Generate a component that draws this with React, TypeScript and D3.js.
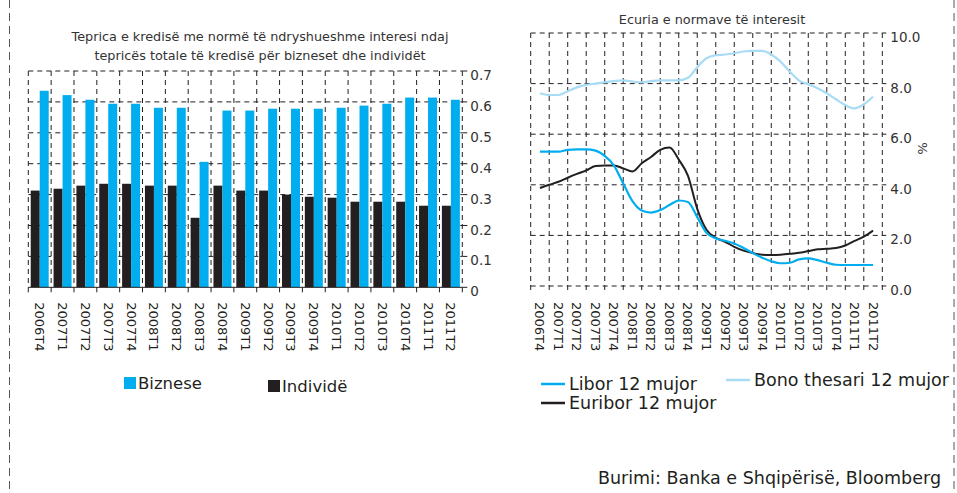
import React, { useRef, useEffect } from 'react';
import * as d3 from 'd3';

const quarters = [
  "2006T4", "2007T1", "2007T2", "2007T3", "2007T4", "2008T1", "2008T2", "2008T3",
  "2008T4", "2009T1", "2009T2", "2009T3", "2009T4", "2010T1", "2010T2", "2010T3",
  "2010T4", "2011T1", "2011T2"
];

// share of variable-rate credit
const biznese = [0.636, 0.622, 0.607, 0.594, 0.594, 0.581, 0.581, 0.406, 0.572, 0.572,
  0.578, 0.578, 0.578, 0.581, 0.588, 0.594, 0.614, 0.614, 0.607];
const individe = [0.313, 0.319, 0.329, 0.335, 0.335, 0.329, 0.329, 0.225, 0.329, 0.313,
  0.313, 0.300, 0.293, 0.290, 0.277, 0.277, 0.277, 0.264, 0.264];
const barTicks = [0, 0.1, 0.2, 0.3, 0.4, 0.5, 0.6, 0.7];

// rates, one value every half quarter
const libor = [5.31, 5.31, 5.31, 5.38, 5.40, 5.40, 5.35, 5.14, 4.76, 4.05, 3.35, 2.98, 2.90,
  3.00, 3.20, 3.38, 3.32, 2.72, 2.10, 1.88, 1.79, 1.68, 1.50, 1.30, 1.12, 0.98, 0.90, 0.92,
  1.05, 1.09, 1.02, 0.92, 0.84, 0.83, 0.83, 0.83, 0.83];
const euribor = [3.87, 4.00, 4.12, 4.28, 4.43, 4.57, 4.74, 4.76, 4.76, 4.65, 4.53, 4.85, 5.10,
  5.38, 5.47, 5.00, 4.35, 3.05, 2.22, 1.90, 1.75, 1.55, 1.40, 1.30, 1.24, 1.23, 1.24, 1.27,
  1.31, 1.38, 1.45, 1.47, 1.50, 1.60, 1.78, 1.95, 2.19];
const bono = [7.62, 7.55, 7.55, 7.70, 7.85, 7.95, 8.00, 8.05, 8.10, 8.13, 8.08, 8.05, 8.10,
  8.13, 8.13, 8.13, 8.23, 8.65, 9.00, 9.12, 9.15, 9.20, 9.27, 9.29, 9.29, 9.15, 8.87, 8.47,
  8.12, 7.97, 7.82, 7.62, 7.38, 7.15, 7.02, 7.18, 7.48];
const rateTicks = [0, 2, 4, 6, 8, 10];

const BLUE = "#00aeef";
const DARK = "#231f20";
const LIGHT = "#a8dcf5";
const FONT = "'DejaVu Sans', sans-serif";

export default function App() {
  const svgRef = useRef<SVGSVGElement>(null);

  useEffect(() => {
    const svg = d3.select(svgRef.current);
    svg.selectAll("*").remove();
    svg.attr("font-family", FONT);

    // page border
    [9.5, 954].forEach(x => {
      svg.append("line")
        .attr("x1", x).attr("x2", x).attr("y1", 0).attr("y2", 493)
        .attr("stroke", "#555").attr("stroke-dasharray", "8,5");
    });

    // ---------- left: bars ----------
    const L = { left: 28.3, right: 462.3, top: 71, bottom: 287.3 };
    const xL = d3.scaleBand().domain(quarters).range([L.left, L.right]);
    const xSub = d3.scaleBand().domain(["ind", "biz"]).range([0, xL.bandwidth()]).paddingOuter(0.27);
    const yL = d3.scaleLinear().domain([0, 0.7]).range([L.bottom, L.top]);
    const gL = svg.append("g");

    gL.selectAll(".hgrid").data(barTicks.slice(1)).enter().append("line")
      .attr("x1", L.left).attr("x2", L.right)
      .attr("y1", d => yL(d)).attr("y2", d => yL(d))
      .attr("stroke", DARK).attr("stroke-dasharray", "5,4");
    const bounds = quarters.map(q => xL(q)!).concat([L.right]);
    gL.selectAll(".vgrid").data(bounds).enter().append("line")
      .attr("x1", d => d).attr("x2", d => d)
      .attr("y1", L.top).attr("y2", L.bottom)
      .attr("stroke", DARK).attr("stroke-dasharray", "5,4");

    gL.selectAll(".ind").data(individe).enter().append("rect")
      .attr("x", (d, i) => xL(quarters[i])! + xSub("ind")!)
      .attr("width", xSub.bandwidth())
      .attr("y", d => yL(d)).attr("height", d => yL(0) - yL(d))
      .attr("fill", DARK);
    gL.selectAll(".biz").data(biznese).enter().append("rect")
      .attr("x", (d, i) => xL(quarters[i])! + xSub("biz")!)
      .attr("width", xSub.bandwidth())
      .attr("y", d => yL(d)).attr("height", d => yL(0) - yL(d))
      .attr("fill", BLUE);

    gL.append("line")
      .attr("x1", L.left).attr("x2", L.right).attr("y1", L.bottom).attr("y2", L.bottom)
      .attr("stroke", DARK);
    gL.selectAll(".xtick").data(bounds).enter().append("line")
      .attr("x1", d => d).attr("x2", d => d)
      .attr("y1", L.bottom).attr("y2", L.bottom + 5)
      .attr("stroke", DARK);
    gL.selectAll(".ytick").data(barTicks).enter().append("line")
      .attr("x1", L.right).attr("x2", L.right + 5)
      .attr("y1", d => yL(d)).attr("y2", d => yL(d))
      .attr("stroke", DARK);
    gL.selectAll(".ylab").data(barTicks).enter().append("text")
      .attr("x", L.right + 8).attr("y", d => yL(d) + 9)
      .attr("font-size", 13.5).attr("fill", "#333")
      .text(d => d === 0 ? "0" : d3.format(".1f")(d));
    gL.selectAll(".xlab").data(quarters).enter().append("text")
      .attr("transform", q => `translate(${xL(q)! + xL.bandwidth() / 2 - 4.5},${L.bottom + 15}) rotate(90)`)
      .attr("font-size", 13).attr("fill", DARK)
      .text(q => q);

    gL.append("text").attr("x", 260).attr("y", 41).attr("text-anchor", "middle")
      .attr("font-size", 12.8).attr("fill", "#333")
      .text("Teprica e kredisë me normë të ndryshueshme interesi ndaj");
    gL.append("text").attr("x", 260).attr("y", 60).attr("text-anchor", "middle")
      .attr("font-size", 12.8).attr("fill", "#333")
      .text("tepricës totale të kredisë për bizneset dhe individët");

    // legend left
    const legL = [
      { name: "Biznese", color: BLUE, x: 124, y: 377 },
      { name: "Individë", color: DARK, x: 268, y: 380 }
    ];
    legL.forEach(l => {
      gL.append("rect").attr("x", l.x).attr("y", l.y).attr("width", 12).attr("height", 12).attr("fill", l.color);
      gL.append("text").attr("x", l.x + 14).attr("y", l.y + 12).attr("font-size", 16.5).attr("fill", DARK).text(l.name);
    });

    // ---------- right: lines ----------
    const R = { left: 530.7, right: 882.3, top: 33, bottom: 286 };
    const xR = d3.scaleBand().domain(quarters).range([R.left, R.right]);
    const yR = d3.scaleLinear().domain([0, 10]).range([R.bottom, R.top]);
    const xT = d3.scaleLinear().domain([0, quarters.length - 1])
      .range([xR(quarters[0])! + xR.bandwidth() / 2, xR(quarters[quarters.length - 1])! + xR.bandwidth() / 2]);
    const gR = svg.append("g");

    gR.selectAll(".hgrid").data(rateTicks).enter().append("line")
      .attr("x1", R.left).attr("x2", R.right)
      .attr("y1", d => yR(d)).attr("y2", d => yR(d))
      .attr("stroke", DARK).attr("stroke-dasharray", "5,4");
    const boundsR = quarters.map(q => xR(q)!).concat([R.right]);
    gR.selectAll(".vgrid").data(boundsR).enter().append("line")
      .attr("x1", d => d).attr("x2", d => d)
      .attr("y1", R.top).attr("y2", R.bottom + 5)
      .attr("stroke", DARK).attr("stroke-dasharray", "5,4");
    gR.selectAll(".ytick").data(rateTicks).enter().append("line")
      .attr("x1", R.right).attr("x2", R.right + 4)
      .attr("y1", d => yR(d)).attr("y2", d => yR(d))
      .attr("stroke", DARK);
    gR.selectAll(".ylab").data(rateTicks).enter().append("text")
      .attr("x", R.right + 8).attr("y", d => yR(d) + 9)
      .attr("font-size", 13.5).attr("fill", "#333")
      .text(d => d3.format(".1f")(d));
    gR.append("text")
      .attr("transform", `translate(918,${yR(6) + 8}) rotate(90)`)
      .attr("font-size", 13).attr("fill", "#333").text("%");
    gR.selectAll(".xlab").data(quarters).enter().append("text")
      .attr("transform", q => `translate(${xR(q)! + xR.bandwidth() / 2 - 4.5},${R.bottom + 16}) rotate(90)`)
      .attr("font-size", 13).attr("fill", DARK)
      .text(q => q);
    gR.append("text").attr("x", 712).attr("y", 24).attr("text-anchor", "middle")
      .attr("font-size", 12.8).attr("fill", "#333")
      .text("Ecuria e normave të interesit");

    const line = d3.line<number>()
      .x((d, i) => xT(i / 2))
      .y(d => yR(d))
      .curve(d3.curveMonotoneX);
    const series = [
      { name: "Bono thesari 12 mujor", values: bono, color: LIGHT, w: 2.2 },
      { name: "Euribor 12 mujor", values: euribor, color: DARK, w: 2 },
      { name: "Libor 12 mujor", values: libor, color: BLUE, w: 2.2 }
    ];
    series.forEach(s => {
      gR.append("path").datum(s.values)
        .attr("d", line).attr("fill", "none")
        .attr("stroke", s.color).attr("stroke-width", s.w);
    });

    const legR = [
      { name: "Libor 12 mujor", color: BLUE, x: 541, y: 384 },
      { name: "Euribor 12 mujor", color: DARK, x: 541, y: 403 },
      { name: "Bono thesari 12 mujor", color: LIGHT, x: 726, y: 380 }
    ];
    legR.forEach(l => {
      gR.append("line").attr("x1", l.x).attr("x2", l.x + 24).attr("y1", l.y).attr("y2", l.y)
        .attr("stroke", l.color).attr("stroke-width", 2.5);
      gR.append("text").attr("x", l.x + 28).attr("y", l.y + 6).attr("font-size", 17.5).attr("fill", DARK).text(l.name);
    });

    svg.append("text").attr("x", 941).attr("y", 484).attr("text-anchor", "end")
      .attr("font-size", 17.5).attr("fill", DARK)
      .text("Burimi: Banka e Shqipërisë, Bloomberg");
  }, []);

  return (
    <svg ref={svgRef} width={957} height={493}
      style={{ position: "absolute", left: 0, top: 0, background: "#fff" }} />
  );
}
